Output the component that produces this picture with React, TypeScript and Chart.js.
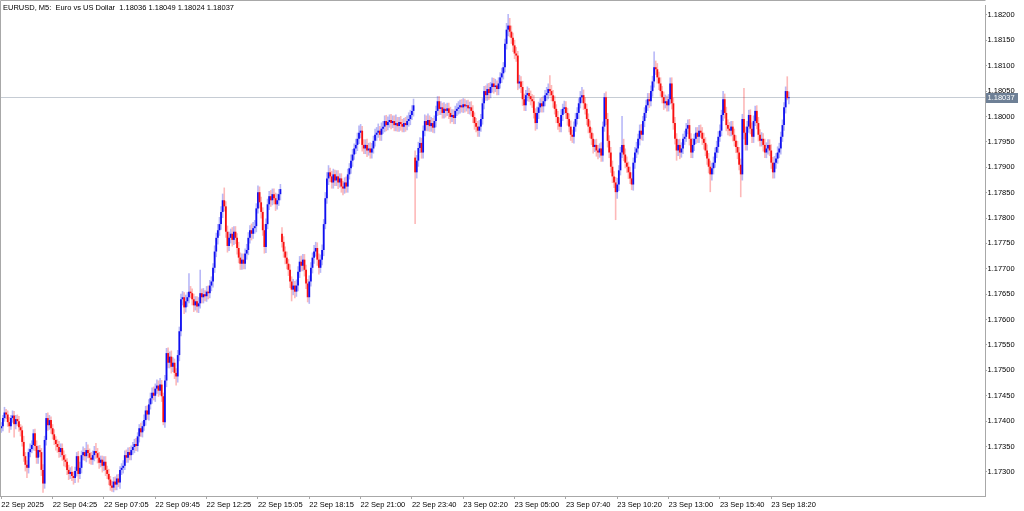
import React, { useEffect, useRef } from "react";
import { Chart, registerables } from "chart.js";

Chart.register(...registerables);

const SYMBOL_TITLE = "EURUSD, M5:  Euro vs US Dollar";

const TICK_BARS = [0, 32, 64, 96, 128, 160, 192, 224, 256, 288, 320, 352, 384, 416, 448, 480];
const TICK_LABELS = [
  "22 Sep 2025", "22 Sep 04:25", "22 Sep 07:05", "22 Sep 09:45", "22 Sep 12:25", "22 Sep 15:05",
  "22 Sep 18:15", "22 Sep 21:00", "22 Sep 23:40", "23 Sep 02:20", "23 Sep 05:00", "23 Sep 07:40",
  "23 Sep 10:20", "23 Sep 13:00", "23 Sep 15:40", "23 Sep 18:20",
];
const Y_TICKS = [
  1.173, 1.1735, 1.174, 1.1745, 1.175, 1.1755, 1.176, 1.1765, 1.177, 1.1775,
  1.178, 1.1785, 1.179, 1.1795, 1.18, 1.1805, 1.181, 1.1815, 1.182,
];

const OPEN = [
  1.17386,1.17390,1.17406,1.17417,1.17413,1.17398,1.17390,1.17406,1.17411,1.17394,
  1.17404,1.17400,1.17388,1.17382,1.17359,1.17331,1.17314,1.17308,1.17339,1.17345,
  1.17353,1.17376,1.17351,1.17328,1.17343,1.17339,1.17304,1.17277,1.17363,1.17406,
  1.17392,1.17402,1.17386,1.17374,1.17363,1.17355,1.17349,1.17339,1.17347,1.17333,
  1.17324,1.17320,1.17304,1.17296,1.17300,1.17292,1.17288,1.17302,1.17331,1.17296,
  1.17308,1.17333,1.17339,1.17331,1.17343,1.17337,1.17328,1.17324,1.17333,1.17341,
  1.17337,1.17328,1.17318,1.17324,1.17312,1.17320,1.17304,1.17296,1.17285,1.17273,
  1.17269,1.17281,1.17275,1.17287,1.17279,1.17304,1.17308,1.17312,1.17333,1.17328,
  1.17339,1.17333,1.17343,1.17349,1.17355,1.17351,1.17370,1.17386,1.17378,1.17390,
  1.17402,1.17421,1.17413,1.17433,1.17445,1.17456,1.17450,1.17464,1.17470,1.17460,
  1.17472,1.17449,1.17398,1.17480,1.17534,1.17515,1.17527,1.17507,1.17515,1.17495,
  1.17488,1.17530,1.17577,1.17640,1.17644,1.17624,1.17636,1.17644,1.17655,1.17652,
  1.17640,1.17628,1.17636,1.17626,1.17632,1.17652,1.17644,1.17650,1.17646,1.17655,
  1.17652,1.17667,1.17675,1.17702,1.17734,1.17761,1.17776,1.17788,1.17812,1.17835,
  1.17823,1.17773,1.17745,1.17761,1.17769,1.17757,1.17773,1.17761,1.17741,1.17722,
  1.17710,1.17718,1.17710,1.17730,1.17737,1.17761,1.17776,1.17769,1.17780,1.17784,
  1.17819,1.17851,1.17831,1.17812,1.17776,1.17743,1.17788,1.17827,1.17843,1.17835,
  1.17847,1.17839,1.17827,1.17835,1.17847,1.17769,1.17753,1.17734,1.17722,1.17710,
  1.17698,1.17675,1.17659,1.17667,1.17655,1.17667,1.17694,1.17714,1.17706,1.17718,
  1.17698,1.17671,1.17644,1.17675,1.17702,1.17722,1.17734,1.17741,1.17718,1.17702,
  1.17718,1.17737,1.17788,1.17839,1.17878,1.17890,1.17882,1.17870,1.17886,1.17874,
  1.17882,1.17870,1.17878,1.17862,1.17858,1.17870,1.17862,1.17886,1.17898,1.17913,
  1.17925,1.17937,1.17944,1.17956,1.17968,1.17972,1.17944,1.17937,1.17944,1.17933,
  1.17937,1.17929,1.17937,1.17952,1.17964,1.17968,1.17972,1.17964,1.17976,1.17980,
  1.17991,1.17983,1.17989,1.17993,1.17987,1.17991,1.17983,1.17987,1.17981,1.17989,
  1.17985,1.17980,1.17987,1.17983,1.17991,1.17995,1.18003,1.18011,1.17919,1.17890,
  1.17913,1.17938,1.17948,1.17929,1.17972,1.17991,1.17983,1.17993,1.17981,1.17987,
  1.17978,1.17991,1.18011,1.18030,1.18015,1.18018,1.18007,1.18015,1.18011,1.18016,
  1.18007,1.17999,1.18003,1.17997,1.18011,1.18015,1.18018,1.18022,1.18018,1.18024,
  1.18020,1.18022,1.18016,1.18018,1.18011,1.17999,1.17987,1.17980,1.17972,1.17980,
  1.17995,1.18026,1.18050,1.18042,1.18054,1.18046,1.18058,1.18065,1.18058,1.18061,
  1.18054,1.18065,1.18077,1.18085,1.18097,1.18143,1.18171,1.18179,1.18167,1.18155,
  1.18140,1.18124,1.18120,1.18065,1.18069,1.18058,1.18034,1.18022,1.18042,1.18046,
  1.18040,1.18034,1.18030,1.18007,1.17987,1.18007,1.18018,1.18026,1.18020,1.18030,
  1.18042,1.18046,1.18054,1.18050,1.18042,1.18030,1.18015,1.17999,1.17987,1.17980,
  1.18003,1.18015,1.18018,1.18007,1.17995,1.17980,1.17964,1.17960,1.17980,1.17995,
  1.18007,1.18026,1.18038,1.18042,1.18026,1.18015,1.17995,1.17980,1.17968,1.17956,
  1.17940,1.17944,1.17933,1.17929,1.17937,1.17923,1.17980,1.18038,1.17995,1.17952,
  1.17929,1.17901,1.17882,1.17870,1.17851,1.17866,1.17894,1.17929,1.17944,1.17925,
  1.17909,1.17901,1.17890,1.17878,1.17866,1.17909,1.17929,1.17937,1.17956,1.17972,
  1.17964,1.17991,1.18007,1.18022,1.18034,1.18030,1.18050,1.18069,1.18097,1.18093,
  1.18077,1.18065,1.18050,1.18038,1.18026,1.18030,1.18022,1.18034,1.18065,1.18026,
  1.17987,1.17956,1.17933,1.17944,1.17929,1.17937,1.17956,1.17960,1.17976,1.17983,
  1.17956,1.17929,1.17944,1.17956,1.17968,1.17960,1.17972,1.17968,1.17956,1.17948,
  1.17933,1.17917,1.17901,1.17886,1.17898,1.17909,1.17929,1.17940,1.17960,1.17972,
  1.18003,1.18034,1.18007,1.17983,1.17976,1.17972,1.17980,1.17964,1.17952,1.17940,
  1.17929,1.17905,1.17886,1.17995,1.17968,1.17944,1.17980,1.18003,1.17976,1.17960,
  1.17991,1.18011,1.17987,1.17964,1.17952,1.17956,1.17944,1.17929,1.17937,1.17944,
  1.17933,1.17909,1.17890,1.17909,1.17917,1.17929,1.17937,1.17960,1.17983,1.18018,
  1.18050,1.18036,
];

const HIGH = [
  1.17398,1.17412,1.17428,1.17424,1.17421,1.17408,1.17412,1.17421,1.17420,1.17412,
  1.17413,1.17410,1.17394,1.17391,1.17371,1.17339,1.17323,1.17346,1.17356,1.17362,
  1.17384,1.17385,1.17362,1.17352,1.17353,1.17347,1.17315,1.17371,1.17416,1.17417,
  1.17412,1.17409,1.17394,1.17384,1.17370,1.17364,1.17361,1.17356,1.17356,1.17342,
  1.17335,1.17327,1.17314,1.17309,1.17311,1.17301,1.17310,1.17339,1.17341,1.17320,
  1.17342,1.17350,1.17347,1.17359,1.17354,1.17346,1.17339,1.17342,1.17351,1.17357,
  1.17347,1.17339,1.17332,1.17332,1.17331,1.17331,1.17312,1.17306,1.17292,1.17282,
  1.17290,1.17291,1.17295,1.17296,1.17311,1.17317,1.17323,1.17342,1.17344,1.17348,
  1.17349,1.17352,1.17359,1.17365,1.17367,1.17378,1.17394,1.17397,1.17400,1.17413,
  1.17430,1.17431,1.17443,1.17456,1.17466,1.17468,1.17474,1.17482,1.17480,1.17485,
  1.17481,1.17456,1.17491,1.17544,1.17545,1.17537,1.17539,1.17526,1.17523,1.17504,
  1.17540,1.17586,1.17651,1.17656,1.17654,1.17649,1.17654,1.17691,1.17666,1.17661,
  1.17651,1.17646,1.17646,1.17644,1.17698,1.17661,1.17662,1.17658,1.17666,1.17667,
  1.17678,1.17685,1.17711,1.17746,1.17771,1.17788,1.17802,1.17823,1.17848,1.17860,
  1.17833,1.17785,1.17773,1.17779,1.17782,1.17784,1.17784,1.17770,1.17753,1.17732,
  1.17730,1.17730,1.17740,1.17749,1.17772,1.17786,1.17789,1.17792,1.17796,1.17829,
  1.17864,1.17862,1.17842,1.17821,1.17788,1.17799,1.17838,1.17853,1.17855,1.17858,
  1.17858,1.17850,1.17848,1.17857,1.17867,1.17782,1.17764,1.17744,1.17734,1.17719,
  1.17709,1.17685,1.17680,1.17676,1.17679,1.17705,1.17725,1.17726,1.17729,1.17729,
  1.17708,1.17680,1.17687,1.17713,1.17732,1.17747,1.17753,1.17752,1.17730,1.17728,
  1.17748,1.17798,1.17851,1.17890,1.17904,1.17899,1.17893,1.17897,1.17895,1.17894,
  1.17894,1.17888,1.17888,1.17873,1.17880,1.17882,1.17897,1.17908,1.17925,1.17936,
  1.17947,1.17956,1.17968,1.17982,1.17985,1.17981,1.17955,1.17955,1.17956,1.17948,
  1.17949,1.17948,1.17962,1.17976,1.17979,1.17986,1.17981,1.17988,1.17991,1.18002,
  1.18003,1.18000,1.18004,1.18005,1.18002,1.18002,1.18004,1.17999,1.17999,1.18001,
  1.17995,1.17997,1.17999,1.18002,1.18008,1.18013,1.18022,1.18035,1.17933,1.17924,
  1.17950,1.17959,1.17958,1.17982,1.18004,1.18002,1.18006,1.18002,1.17999,1.17997,
  1.18002,1.18021,1.18040,1.18040,1.18030,1.18027,1.18028,1.18025,1.18027,1.18027,
  1.18019,1.18014,1.18014,1.18021,1.18026,1.18030,1.18033,1.18034,1.18036,1.18035,
  1.18032,1.18033,1.18029,1.18030,1.18022,1.18008,1.17997,1.17991,1.17993,1.18005,
  1.18036,1.18060,1.18061,1.18065,1.18066,1.18068,1.18077,1.18076,1.18074,1.18071,
  1.18077,1.18087,1.18096,1.18107,1.18153,1.18184,1.18202,1.18194,1.18179,1.18165,
  1.18151,1.18137,1.18129,1.18082,1.18079,1.18070,1.18045,1.18052,1.18059,1.18056,
  1.18051,1.18044,1.18042,1.18016,1.18019,1.18029,1.18036,1.18038,1.18041,1.18052,
  1.18058,1.18065,1.18081,1.18062,1.18052,1.18041,1.18024,1.18011,1.17998,1.18014,
  1.18025,1.18031,1.18030,1.18017,1.18006,1.17992,1.17974,1.17990,1.18007,1.18018,
  1.18036,1.18050,1.18058,1.18053,1.18038,1.18025,1.18006,1.17992,1.17978,1.17967,
  1.17955,1.17956,1.17944,1.17947,1.17949,1.17990,1.18046,1.18049,1.18007,1.17963,
  1.17940,1.17913,1.17892,1.17881,1.17879,1.17904,1.17940,1.18001,1.17956,1.17937,
  1.17921,1.17911,1.17901,1.17890,1.17919,1.17940,1.17950,1.17966,1.17984,1.17985,
  1.18001,1.18018,1.18033,1.18046,1.18046,1.18061,1.18080,1.18128,1.18110,1.18105,
  1.18088,1.18077,1.18060,1.18049,1.18043,1.18041,1.18044,1.18077,1.18077,1.18037,
  1.17999,1.17967,1.17955,1.17956,1.17949,1.17966,1.17972,1.17987,1.17994,1.17995,
  1.17967,1.17957,1.17966,1.17979,1.17979,1.17983,1.17984,1.17979,1.17968,1.17959,
  1.17945,1.17928,1.17913,1.17909,1.17921,1.17939,1.17952,1.17971,1.17984,1.18013,
  1.18050,1.18045,1.18019,1.17994,1.17989,1.17991,1.17991,1.17976,1.17963,1.17952,
  1.17940,1.17917,1.18005,1.18056,1.17980,1.17991,1.18013,1.18014,1.17988,1.18002,
  1.18021,1.18022,1.17999,1.17975,1.17969,1.17967,1.17956,1.17949,1.17955,1.17955,
  1.17945,1.17920,1.17922,1.17928,1.17941,1.17948,1.17970,1.17994,1.18028,1.18059,
  1.18079,1.18049,
];

const LOW = [
  1.17377,1.17380,1.17399,1.17404,1.17389,1.17377,1.17383,1.17397,1.17368,1.17384,
  1.17390,1.17379,1.17370,1.17350,1.17320,1.17301,1.17288,1.17297,1.17329,1.17337,
  1.17342,1.17341,1.17316,1.17316,1.17329,1.17292,1.17259,1.17267,1.17352,1.17381,
  1.17383,1.17375,1.17364,1.17353,1.17342,1.17338,1.17328,1.17329,1.17322,1.17311,
  1.17309,1.17294,1.17284,1.17286,1.17282,1.17275,1.17278,1.17291,1.17279,1.17286,
  1.17297,1.17323,1.17322,1.17319,1.17327,1.17316,1.17314,1.17314,1.17321,1.17326,
  1.17317,1.17306,1.17309,1.17299,1.17302,1.17292,1.17286,1.17274,1.17263,1.17261,
  1.17260,1.17264,1.17264,1.17270,1.17267,1.17294,1.17297,1.17304,1.17318,1.17318,
  1.17323,1.17323,1.17334,1.17337,1.17341,1.17340,1.17358,1.17369,1.17368,1.17381,
  1.17391,1.17403,1.17401,1.17423,1.17434,1.17441,1.17438,1.17454,1.17448,1.17451,
  1.17438,1.17392,1.17387,1.17467,1.17504,1.17504,1.17494,1.17497,1.17483,1.17470,
  1.17476,1.17518,1.17567,1.17628,1.17611,1.17614,1.17625,1.17632,1.17642,1.17628,
  1.17615,1.17618,1.17614,1.17613,1.17622,1.17632,1.17632,1.17636,1.17635,1.17640,
  1.17642,1.17656,1.17663,1.17692,1.17723,1.17748,1.17765,1.17777,1.17800,1.17813,
  1.17761,1.17732,1.17735,1.17750,1.17744,1.17747,1.17749,1.17728,1.17711,1.17698,
  1.17698,1.17699,1.17699,1.17718,1.17727,1.17750,1.17756,1.17759,1.17769,1.17772,
  1.17809,1.17819,1.17799,1.17765,1.17730,1.17731,1.17778,1.17816,1.17822,1.17825,
  1.17827,1.17814,1.17817,1.17824,1.17835,1.17742,1.17722,1.17709,1.17699,1.17686,
  1.17662,1.17636,1.17648,1.17642,1.17645,1.17656,1.17682,1.17695,1.17695,1.17685,
  1.17660,1.17634,1.17631,1.17665,1.17691,1.17710,1.17724,1.17706,1.17689,1.17692,
  1.17707,1.17725,1.17778,1.17828,1.17865,1.17871,1.17858,1.17858,1.17863,1.17863,
  1.17857,1.17860,1.17850,1.17845,1.17848,1.17850,1.17850,1.17876,1.17887,1.17901,
  1.17915,1.17926,1.17932,1.17946,1.17957,1.17931,1.17926,1.17926,1.17920,1.17923,
  1.17917,1.17917,1.17927,1.17941,1.17952,1.17958,1.17952,1.17952,1.17966,1.17969,
  1.17971,1.17973,1.17978,1.17975,1.17977,1.17971,1.17971,1.17970,1.17970,1.17972,
  1.17969,1.17969,1.17970,1.17973,1.17980,1.17983,1.17993,1.18000,1.17788,1.17878,
  1.17901,1.17928,1.17917,1.17917,1.17961,1.17971,1.17971,1.17970,1.17970,1.17968,
  1.17967,1.17979,1.18001,1.18003,1.18003,1.17996,1.17996,1.17998,1.18001,1.17995,
  1.17986,1.17989,1.17985,1.17985,1.18001,1.18004,1.18006,1.18008,1.18007,1.18008,
  1.18010,1.18005,1.18004,1.18000,1.17987,1.17974,1.17969,1.17960,1.17960,1.17970,
  1.17984,1.18014,1.18031,1.18031,1.18033,1.18036,1.18047,1.18045,1.18048,1.18042,
  1.18042,1.18055,1.18066,1.18073,1.18087,1.18132,1.18158,1.18156,1.18143,1.18127,
  1.18113,1.18108,1.18052,1.18055,1.18046,1.18021,1.18011,1.18011,1.18030,1.18029,
  1.18022,1.18017,1.17996,1.17972,1.17975,1.17995,1.18008,1.18008,1.18008,1.18020,
  1.18031,1.18034,1.18040,1.18030,1.18017,1.18004,1.17987,1.17974,1.17969,1.17969,
  1.17991,1.18005,1.17995,1.17982,1.17969,1.17952,1.17948,1.17947,1.17970,1.17984,
  1.17995,1.18016,1.18027,1.18013,1.18004,1.17983,1.17967,1.17957,1.17944,1.17927,
  1.17930,1.17921,1.17916,1.17919,1.17911,1.17911,1.17970,1.17983,1.17939,1.17918,
  1.17889,1.17869,1.17859,1.17796,1.17838,1.17853,1.17884,1.17918,1.17912,1.17898,
  1.17889,1.17877,1.17867,1.17855,1.17854,1.17897,1.17918,1.17925,1.17943,1.17953,
  1.17952,1.17979,1.17997,1.18011,1.18017,1.18020,1.18039,1.18057,1.18082,1.18065,
  1.18052,1.18039,1.18026,1.18013,1.18016,1.18010,1.18010,1.18024,1.18014,1.17974,
  1.17945,1.17913,1.17922,1.17916,1.17919,1.17926,1.17944,1.17950,1.17965,1.17943,
  1.17918,1.17918,1.17932,1.17946,1.17948,1.17948,1.17958,1.17944,1.17935,1.17922,
  1.17905,1.17888,1.17851,1.17874,1.17886,1.17899,1.17918,1.17928,1.17950,1.17961,
  1.17991,1.17996,1.17971,1.17963,1.17961,1.17961,1.17951,1.17941,1.17928,1.17916,
  1.17894,1.17841,1.17874,1.17955,1.17933,1.17933,1.17968,1.17965,1.17948,1.17948,
  1.17981,1.17975,1.17951,1.17941,1.17941,1.17931,1.17918,1.17918,1.17925,1.17922,
  1.17897,1.17878,1.17878,1.17897,1.17907,1.17918,1.17925,1.17950,1.17972,1.18006,
  1.18032,1.18024,
];

const CLOSE = [
  1.17390,1.17406,1.17417,1.17413,1.17398,1.17390,1.17406,1.17411,1.17394,1.17404,
  1.17400,1.17388,1.17382,1.17359,1.17331,1.17314,1.17308,1.17339,1.17345,1.17353,
  1.17376,1.17351,1.17328,1.17343,1.17339,1.17304,1.17277,1.17363,1.17406,1.17392,
  1.17402,1.17386,1.17374,1.17363,1.17355,1.17349,1.17339,1.17347,1.17333,1.17324,
  1.17320,1.17304,1.17296,1.17300,1.17292,1.17288,1.17302,1.17331,1.17296,1.17308,
  1.17333,1.17339,1.17331,1.17343,1.17337,1.17328,1.17324,1.17333,1.17341,1.17337,
  1.17328,1.17318,1.17324,1.17312,1.17320,1.17304,1.17296,1.17285,1.17273,1.17269,
  1.17281,1.17275,1.17287,1.17279,1.17304,1.17308,1.17312,1.17333,1.17328,1.17339,
  1.17333,1.17343,1.17349,1.17355,1.17351,1.17370,1.17386,1.17378,1.17390,1.17402,
  1.17421,1.17413,1.17433,1.17445,1.17456,1.17450,1.17464,1.17470,1.17460,1.17472,
  1.17449,1.17398,1.17480,1.17534,1.17515,1.17527,1.17507,1.17515,1.17495,1.17488,
  1.17530,1.17577,1.17640,1.17644,1.17624,1.17636,1.17644,1.17655,1.17652,1.17640,
  1.17628,1.17636,1.17626,1.17632,1.17652,1.17644,1.17650,1.17646,1.17655,1.17652,
  1.17667,1.17675,1.17702,1.17734,1.17761,1.17776,1.17788,1.17812,1.17835,1.17823,
  1.17773,1.17745,1.17761,1.17769,1.17757,1.17773,1.17761,1.17741,1.17722,1.17710,
  1.17718,1.17710,1.17730,1.17737,1.17761,1.17776,1.17769,1.17780,1.17784,1.17819,
  1.17851,1.17831,1.17812,1.17776,1.17743,1.17788,1.17827,1.17843,1.17835,1.17847,
  1.17839,1.17827,1.17835,1.17847,1.17857,1.17753,1.17734,1.17722,1.17710,1.17698,
  1.17675,1.17659,1.17667,1.17655,1.17667,1.17694,1.17714,1.17706,1.17718,1.17698,
  1.17671,1.17644,1.17675,1.17702,1.17722,1.17734,1.17741,1.17718,1.17702,1.17718,
  1.17737,1.17788,1.17839,1.17878,1.17890,1.17882,1.17870,1.17886,1.17874,1.17882,
  1.17870,1.17878,1.17862,1.17858,1.17870,1.17862,1.17886,1.17898,1.17913,1.17925,
  1.17937,1.17944,1.17956,1.17968,1.17972,1.17944,1.17937,1.17944,1.17933,1.17937,
  1.17929,1.17937,1.17952,1.17964,1.17968,1.17972,1.17964,1.17976,1.17980,1.17991,
  1.17983,1.17989,1.17993,1.17987,1.17991,1.17983,1.17987,1.17981,1.17989,1.17985,
  1.17980,1.17987,1.17983,1.17991,1.17995,1.18003,1.18011,1.18022,1.17890,1.17913,
  1.17938,1.17948,1.17929,1.17972,1.17991,1.17983,1.17993,1.17981,1.17987,1.17978,
  1.17991,1.18011,1.18030,1.18015,1.18018,1.18007,1.18015,1.18011,1.18016,1.18007,
  1.17999,1.18003,1.17997,1.18011,1.18015,1.18018,1.18022,1.18018,1.18024,1.18020,
  1.18022,1.18016,1.18018,1.18011,1.17999,1.17987,1.17980,1.17972,1.17980,1.17995,
  1.18026,1.18050,1.18042,1.18054,1.18046,1.18058,1.18065,1.18058,1.18061,1.18054,
  1.18065,1.18077,1.18085,1.18097,1.18143,1.18171,1.18179,1.18167,1.18155,1.18140,
  1.18124,1.18120,1.18065,1.18069,1.18058,1.18034,1.18022,1.18042,1.18046,1.18040,
  1.18034,1.18030,1.18007,1.17987,1.18007,1.18018,1.18026,1.18020,1.18030,1.18042,
  1.18046,1.18054,1.18050,1.18042,1.18030,1.18015,1.17999,1.17987,1.17980,1.18003,
  1.18015,1.18018,1.18007,1.17995,1.17980,1.17964,1.17960,1.17980,1.17995,1.18007,
  1.18026,1.18038,1.18042,1.18026,1.18015,1.17995,1.17980,1.17968,1.17956,1.17940,
  1.17944,1.17933,1.17929,1.17937,1.17923,1.17980,1.18038,1.17995,1.17952,1.17929,
  1.17901,1.17882,1.17870,1.17851,1.17866,1.17894,1.17929,1.17944,1.17925,1.17909,
  1.17901,1.17890,1.17878,1.17866,1.17909,1.17929,1.17937,1.17956,1.17972,1.17964,
  1.17991,1.18007,1.18022,1.18034,1.18030,1.18050,1.18069,1.18097,1.18093,1.18077,
  1.18065,1.18050,1.18038,1.18026,1.18030,1.18022,1.18034,1.18065,1.18026,1.17987,
  1.17956,1.17933,1.17944,1.17929,1.17937,1.17956,1.17960,1.17976,1.17983,1.17956,
  1.17929,1.17944,1.17956,1.17968,1.17960,1.17972,1.17968,1.17956,1.17948,1.17933,
  1.17917,1.17901,1.17886,1.17898,1.17909,1.17929,1.17940,1.17960,1.17972,1.18003,
  1.18034,1.18007,1.17983,1.17976,1.17972,1.17980,1.17964,1.17952,1.17940,1.17929,
  1.17905,1.17886,1.17995,1.17968,1.17944,1.17980,1.18003,1.17976,1.17960,1.17991,
  1.18011,1.17987,1.17964,1.17952,1.17956,1.17944,1.17929,1.17937,1.17944,1.17933,
  1.17909,1.17890,1.17909,1.17917,1.17929,1.17937,1.17960,1.17983,1.18018,1.18050,
  1.18036,1.18037,
];

const FONT_FAMILY = "'Liberation Sans', Arial, sans-serif";
const FONT_SIZE = 7.5;
const UP_BODY = "#1010f0";
const DOWN_BODY = "#f81010";
const UP_WICK = "rgba(40,40,230,0.33)";
const DOWN_WICK = "rgba(250,40,40,0.33)";
const FRAME = "#a8a8a8";
const PRICE_LINE = "#c6ccd4";
const PRICE_BOX = "#6e8096";

const W = 1024;
const H = 511;
const PLOT_RIGHT = 985;
const PLOT_BOTTOM = 496;
const X_MIN = -0.81;
const X_MAX = 613.28;
const Y_MAX = 1.1821954;
const Y_MIN = 1.1725255;

const fmt = (v: number) => v.toFixed(5);

export default function App() {
  const ref = useRef<HTMLCanvasElement | null>(null);

  useEffect(() => {
    const canvas = ref.current;
    if (!canvas) return;
    const n = CLOSE.length;
    const last = n - 1;
    const bodyData = OPEN.map((o, i) => ({ x: i, y: [o, CLOSE[i]] }));
    const wickData = LOW.map((l, i) => ({ x: i, y: [l, HIGH[i]] }));
    const isUp = OPEN.map((o, i) => CLOSE[i] >= o);
    const font = `${FONT_SIZE}px ${FONT_FAMILY}`;

    const mt5Plugin = {
      id: "mt5",
      beforeDatasetsDraw(chart: any) {
        const { ctx, chartArea } = chart;
        const py = chart.scales.y.getPixelForValue(CLOSE[last]);
        const yy = Math.floor(py) + 0.5;
        ctx.save();
        ctx.strokeStyle = PRICE_LINE;
        ctx.lineWidth = 1;
        ctx.beginPath();
        ctx.moveTo(chartArea.left, yy);
        ctx.lineTo(chartArea.right, yy);
        ctx.stroke();
        ctx.restore();
      },
      afterDraw(chart: any) {
        const { ctx, chartArea } = chart;
        ctx.save();
        ctx.strokeStyle = FRAME;
        ctx.lineWidth = 1;
        ctx.beginPath();
        ctx.moveTo(0.5, chartArea.bottom);
        ctx.lineTo(0.5, 0.5);
        ctx.lineTo(chartArea.right + 0.5, 0.5);
        ctx.stroke();
        ctx.fillStyle = "#000000";
        ctx.font = font;
        ctx.textBaseline = "middle";
        ctx.textAlign = "left";
        const header = `${SYMBOL_TITLE}  ${fmt(OPEN[last])} ${fmt(HIGH[last])} ${fmt(LOW[last])} ${fmt(CLOSE[last])}`;
        ctx.fillText(header, 3, 7.5);
        const py = chart.scales.y.getPixelForValue(CLOSE[last]);
        const yy = Math.floor(py);
        ctx.fillStyle = PRICE_BOX;
        ctx.fillRect(chartArea.right + 1, yy - 4, 32, 10);
        ctx.fillStyle = "#ffffff";
        ctx.fillText(fmt(CLOSE[last]), chartArea.right + 2.5, yy + 1);
        ctx.restore();
      },
    };

    const chart = new Chart(canvas, {
      type: "bar",
      data: {
        datasets: [
          {
            label: "body",
            data: bodyData as any,
            backgroundColor: isUp.map((u) => (u ? UP_BODY : DOWN_BODY)),
            borderWidth: 0,
            barThickness: 1.8,
            grouped: false,
            order: 0,
            minBarLength: 1,
            inflateAmount: 0,
          } as any,
          {
            label: "wick",
            data: wickData as any,
            backgroundColor: isUp.map((u) => (u ? UP_WICK : DOWN_WICK)),
            borderWidth: 0,
            barThickness: 1.6,
            grouped: false,
            order: 1,
            inflateAmount: 0,
          } as any,
        ],
      },
      options: {
        animation: false,
        responsive: false,
        maintainAspectRatio: false,
        layout: { padding: { top: 1, left: 0, right: 0, bottom: 0 } },
        plugins: { legend: { display: false }, tooltip: { enabled: false } },
        scales: {
          x: {
            type: "linear",
            position: "bottom",
            min: X_MIN,
            max: X_MAX,
            bounds: "data",
            offset: false,
            grid: { display: true, offset: false, drawOnChartArea: false, drawTicks: true, tickLength: 3, color: FRAME },
            border: { display: true, color: FRAME },
            ticks: {
              align: "start",
              padding: 1,
              maxRotation: 0,
              minRotation: 0,
              autoSkip: false,
              color: "#000000",
              font: { family: FONT_FAMILY, size: FONT_SIZE },
              callback: (_v: any, idx: number) => TICK_LABELS[idx],
            },
            afterBuildTicks: (s: any) => {
              s.ticks = TICK_BARS.map((v) => ({ value: v }));
            },
            afterFit: (s: any) => {
              s.height = H - PLOT_BOTTOM;
            },
          },
          y: {
            type: "linear",
            position: "right",
            min: Y_MIN,
            max: Y_MAX,
            bounds: "data",
            beginAtZero: false,
            grid: { display: true, drawOnChartArea: false, drawTicks: true, tickLength: 2, color: FRAME },
            border: { display: true, color: FRAME },
            ticks: {
              padding: 0.5,
              autoSkip: false,
              color: "#000000",
              font: { family: FONT_FAMILY, size: FONT_SIZE },
              callback: (v: any) => Number(v).toFixed(5),
            },
            afterBuildTicks: (s: any) => {
              s.ticks = Y_TICKS.map((v) => ({ value: v }));
            },
            afterFit: (s: any) => {
              s.width = W - PLOT_RIGHT;
            },
          },
        },
      } as any,
      plugins: [mt5Plugin as any],
    });

    return () => {
      chart.destroy();
    };
  }, []);

  return (
    <div style={{ position: "absolute", left: 0, top: 0, width: W, height: H, background: "#ffffff" }}>
      <canvas ref={ref} width={W} height={H} style={{ display: "block", width: W, height: H }} />
    </div>
  );
}
